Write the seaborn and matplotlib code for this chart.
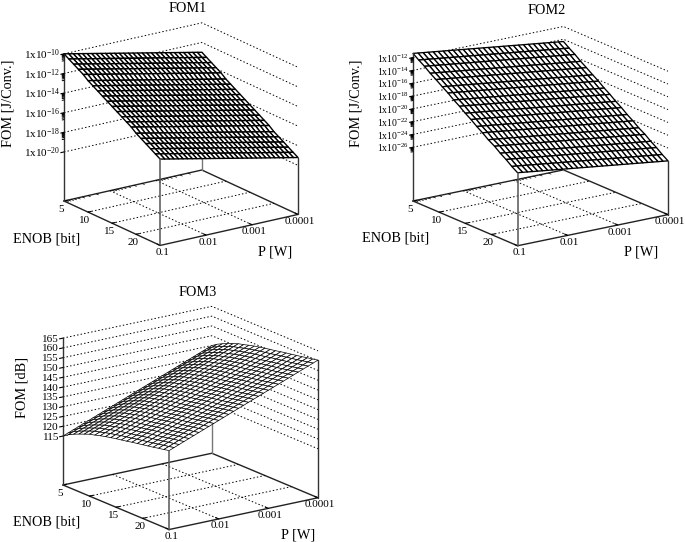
import numpy as np
import seaborn as sns
import matplotlib
matplotlib.use('Agg')
import matplotlib.pyplot as plt
from mpl_toolkits.mplot3d import proj3d

sns.set_theme(style='white')
plt.rcParams['font.family'] = ['Liberation Serif', 'DejaVu Sans']
plt.rcParams['mathtext.default'] = 'regular'

# grid of the mesh: log10(P) and ENOB
p_exp = [-4.0, -3.9, -3.8, -3.7, -3.6, -3.5, -3.4, -3.3, -3.2, -3.1, -3.0,
         -2.9, -2.8, -2.7, -2.6, -2.5, -2.4, -2.3, -2.2, -2.1, -2.0,
         -1.9, -1.8, -1.7, -1.6, -1.5, -1.4, -1.3, -1.2, -1.1, -1.0]
enob = [5, 6, 7, 8, 9, 10, 11, 12, 13, 14, 15, 16, 17, 18, 19, 20, 21, 22, 23, 24, 25]
enob_fom2 = [5, 6.1, 7.2, 8.3, 9.4, 10.6, 11.7, 12.8, 13.9, 15, 16.1, 17.2, 18.3, 19.4,
             20.6, 21.7, 22.8, 23.9, 25]

# tick labels
p_ticks = [-1, -2, -3, -4]
p_labels = ['0.1', '0.01', '0.001', '0.0001']
enob_ticks = [5, 10, 15, 20]

# surfaces are read as two edges: over ENOB at P=0.1, and over P at ENOB=5.
# The inside of each mesh is edge + edge, the surfaces are flat that way
fom1_enob = [-10.0, -10.3, -10.6, -10.9, -11.2, -11.6, -11.9, -12.2, -12.5, -12.8, -13.1,
             -13.4, -13.7, -14.0, -14.3, -14.7, -15.0, -15.3, -15.6, -15.9, -16.2]
fom1_p = [-3.0, -2.9, -2.8, -2.7, -2.6, -2.5, -2.4, -2.3, -2.2, -2.1, -2.0,
          -1.9, -1.8, -1.7, -1.6, -1.5, -1.4, -1.3, -1.2, -1.1, -1.0,
          -0.9, -0.8, -0.7, -0.6, -0.5, -0.4, -0.3, -0.2, -0.1, 0.0]
fom2_enob = [-11.35, -12.0, -12.6, -13.3, -13.9, -14.6, -15.2, -15.9, -16.5, -17.2, -17.8,
             -18.5, -19.1, -19.8, -20.4, -21.1, -21.7, -22.4, -23.0]
fom2_p = fom1_p
fom3_enob = [115.0, 116.8, 118.2, 119.4, 120.5, 121.6, 122.3, 123.1, 123.8, 124.4, 125.0,
             125.5, 126.0, 126.6, 127.1, 127.6, 128.1, 128.6, 129.2, 129.7, 130.3]
fom3_p = [30.0, 29.0, 28.0, 27.0, 26.0, 25.0, 24.0, 23.0, 22.0, 21.0, 20.0,
          19.0, 18.0, 17.0, 16.0, 15.0, 14.0, 13.0, 12.0, 11.0, 10.0,
          9.0, 8.0, 7.0, 6.0, 5.0, 4.0, 3.0, 2.0, 1.0, 0.0]

fom1_zticks = [-10, -12, -14, -16, -18, -20]
fom2_zticks = [-12, -14, -16, -18, -20, -22, -24, -26]
fom3_zticks = [165, 160, 155, 150, 145, 140, 135, 130, 125, 120, 115]

W, H = 685, 542
fig = plt.figure(figsize=(W / 100, H / 100), dpi=100)

dotted = (0, (1.5, 2.2))


def box_px(ax, x, y, z):
    # pixel position of a point of the 3D box
    a, b, _ = proj3d.proj_transform(x, y, z, ax.get_proj())
    return ax.transData.transform((a, b))


def fit_axes(ax, zmin, left, right):
    # moves and scales the axes so the floor corners land on the reference pixels
    side = 300
    ax.set_position([0.1, 0.1, side / W, side / H])
    ax.apply_aspect()
    p0 = box_px(ax, -1, 5, zmin)
    p1 = box_px(ax, -4, 25, zmin)
    side = side * (right[0] - left[0]) / (p1[0] - p0[0])
    ax.set_position([0.1, 0.1, side / W, side / H])
    ax.apply_aspect()
    p0 = box_px(ax, -1, 5, zmin)
    x0 = 0.1 * W + left[0] - p0[0]
    y0 = 0.1 * H + (H - left[1]) - p0[1]
    ax.set_position([x0 / W, y0 / H, side / W, side / H])
    ax.apply_aspect()


def tick_text(ax, x, y, z, dx, dy, s, ha='center', size=8):
    # tick label next to a point of the box, dx and dy in pixels (dy goes down)
    px = box_px(ax, x, y, z)
    fig.text((px[0] + dx) / W, (px[1] - dy) / H, s, ha=ha, va='center', fontsize=size, color='black')


def panel(title, rows, enob_edge, p_edge, zlim, zticks, zlabels, zlabel, view, aspect,
          left, right, title_xy, enob_xy, p_xy, zlabel_xy, log=True, lw=0.8, zsize=8):
    ax = fig.add_subplot(projection='3d', proj_type='ortho')
    ax.computed_zorder = False
    ax.set_axis_off()
    ax.patch.set_visible(False)
    ax.view_init(elev=view[0], azim=view[1])
    ax.set_box_aspect(aspect)
    ax.set_xlim(-4, -1)
    ax.set_ylim(5, 25)
    zmin, zmax = zlim
    ax.set_zlim(zmin, zmax)

    X, Y = np.meshgrid(p_exp, rows)
    Z = np.add.outer(enob_edge, p_edge)
    ax.plot_surface(X, Y, Z, rstride=1, cstride=1, color='white', edgecolor='black',
                    linewidth=lw, shade=False, zorder=2)

    # floor frame
    fx = [-1, -1, -4, -4, -1]
    fy = [5, 25, 25, 5, 5]
    ax.plot(fx, fy, [zmin] * 5, color='#222222', lw=1.0, zorder=1)

    # dotted grid on the floor
    for e in enob_ticks[1:]:
        ax.plot([-1, -4], [e, e], [zmin, zmin], color='black', lw=0.7, ls=dotted, zorder=1)
    for p in p_ticks[1:3]:
        ax.plot([p, p], [5, 25], [zmin, zmin], color='black', lw=0.7, ls=dotted, zorder=1)

    # dotted grid on the two back walls
    for z in zticks:
        ax.plot([-1, -4, -4], [5, 5, 25], [z, z, z], color='black', lw=0.7, ls=dotted, zorder=1)

    # verticals: the left one is the z axis, the others stop at the surface
    top = max(zmax, Z[0, -1])
    ax.plot([-1, -1], [5, 5], [zmin, top], color='#333333', lw=1.0, zorder=3)
    ax.plot([-4, -4], [5, 5], [zmin, Z[0, 0]], color='#777777', lw=1.0, zorder=1)
    ax.plot([-1, -1], [25, 25], [zmin, Z[-1, -1]], color='#555555', lw=1.1, zorder=3)
    ax.plot([-4, -4], [25, 25], [zmin, Z[-1, 0]], color='#333333', lw=1.0, zorder=3)

    # z ticks, with the log minor ticks just under each one
    for z in zticks:
        ax.plot([-1, -0.93], [5, 5], [z, z], color='black', lw=0.8, zorder=3)
        if log and (z != zticks[-1] or title == 'FOM2'):
            for k in [2, 3, 4, 5, 6, 7, 8, 9]:
                zm = z - 1 + np.log10(k)
                ax.plot([-1, -0.96], [5, 5], [zm, zm], color='black', lw=0.7, zorder=3)

    # P and ENOB ticks
    for p in p_ticks:
        ax.plot([p, p], [25, 24.4], [zmin, zmin], color='black', lw=0.8, zorder=1)
    for e in enob_ticks:
        ax.plot([-1, -1.07], [e, e], [zmin, zmin], color='black', lw=0.8, zorder=1)
    if log:
        for d in [-4, -3, -2]:
            for k in [2, 3, 4, 5, 6, 7, 8, 9]:
                pm = d + np.log10(k)
                ax.plot([pm, pm], [5, 5.5], [zmin, zmin], color='black', lw=0.5, zorder=1)

    fit_axes(ax, zmin, left, right)

    for z, lab in zip(zticks, zlabels):
        tick_text(ax, -1, 5, z, -4, 1, lab, ha='right', size=zsize)
    for p, lab in zip(p_ticks, p_labels):
        tick_text(ax, p, 25, zmin, 2, 7, lab)
    for e in enob_ticks:
        tick_text(ax, -1, e, zmin, -3, 8, str(e))

    fig.text(title_xy[0] / W, 1 - title_xy[1] / H, title, ha='center', va='center', fontsize=10.3, color='black')
    fig.text(enob_xy[0] / W, 1 - enob_xy[1] / H, 'ENOB [bit]', ha='center', va='center', fontsize=10.3, color='black')
    fig.text(p_xy[0] / W, 1 - p_xy[1] / H, 'P [W]', ha='center', va='center', fontsize=10.3, color='black')
    fig.text(zlabel_xy[0] / W, 1 - zlabel_xy[1] / H, zlabel, ha='center', va='center', rotation=90,
             fontsize=10.3, color='black')


panel('FOM1', enob, fom1_enob, fom1_p, (-25, -10), fom1_zticks,
      ['1x10$^{%d}$' % z for z in fom1_zticks], 'FOM [J/Conv.]', (18.8, 55.1), (1, 1, 0.925),
      (64, 201), (298, 214), (188, 9), (47, 239), (275, 252), (8, 103), lw=1.0)

panel('FOM2', enob_fom2, fom2_enob, fom2_p, (-34.4, -12), fom2_zticks,
      ['1x10$^{%d}$' % z for z in fom2_zticks], 'FOM [J/Conv.]', (17.3, 55.2), (1, 1, 0.82),
      (413, 201), (668, 214), (547, 10), (396, 238), (641, 252), (356, 103), lw=0.95, zsize=7)

panel('FOM3', enob, fom3_enob, fom3_p, (90, 165), fom3_zticks,
      [str(z) for z in fom3_zticks], 'FOM [dB]', (17.4, 54.5), (1, 1, 0.842),
      (63, 485), (318, 497), (198, 293), (47, 522), (298, 535), (22, 387), log=False, lw=0.5)

fig.savefig('out.png', dpi=100)
